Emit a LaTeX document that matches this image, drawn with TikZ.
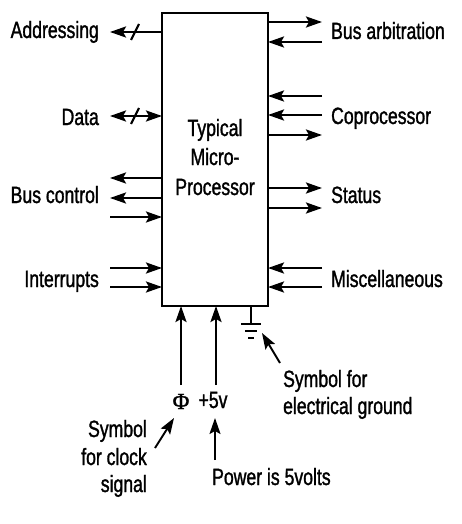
\documentclass[tikz,border=0pt]{standalone}
\usepackage{fontspec}
\setmainfont{Liberation Sans}[FakeStretch=0.75,FakeBold=1.3]
\newfontfamily\phifont{Liberation Serif}[FakeBold=1.2]
\usetikzlibrary{arrows.meta}
\begin{document}
\begin{tikzpicture}[x=1pt,y=-1pt,line width=2.3pt,
  arr/.style={-{Stealth[length=16pt,width=11pt,inset=3pt]}},
  darr/.style={{Stealth[length=16pt,width=11pt,inset=3pt]}-{Stealth[length=16pt,width=11pt,inset=3pt]}},
  lab/.style={inner sep=0pt,font=\fontsize{23.5}{29.5}\selectfont},
  cpubox/.style={draw,line width=2.5pt,minimum width=106pt,minimum height=293pt,inner sep=0pt},
  busslash/.style={line width=2.2pt}]
\useasboundingbox (0,0) rectangle (462,524);
% processor box
\node[cpubox] (cpu) at (215,159.5) {};
\node[lab,anchor=base] (t1) at (215,136) {Typical};
\node[lab,anchor=base] (t2) at (215,165) {Micro-};
\node[lab,anchor=base] (t3) at (215,195) {Processor};
% left side coordinates
\foreach \n/\y in {ad/32,da/116,bc1/178,bc2/198,bc3/217,in1/268,in2/287}{
  \coordinate (\n-b) at (162,\y);
  \coordinate (\n-o) at (110,\y);
}
% right side coordinates
\foreach \n/\y in {ba1/22,ba2/42,cp1/96,cp2/115,cp3/135,st1/188,st2/208,mi1/268,mi2/287}{
  \coordinate (\n-b) at (268,\y);
  \coordinate (\n-o) at (322,\y);
}
% left labels
\node[lab,anchor=base east] (lad) at (100,38) {Addressing};
\node[lab,anchor=base east] (lda) at (100,125) {Data};
\node[lab,anchor=base east] (lbc) at (100,203) {Bus control};
\node[lab,anchor=base east] (lin) at (100,287) {Interrupts};
% right labels
\node[lab,anchor=base west] (lba) at (330,39) {Bus arbitration};
\node[lab,anchor=base west] (lcp) at (330,124) {Coprocessor};
\node[lab,anchor=base west] (lst) at (330,203) {Status};
\node[lab,anchor=base west] (lmi) at (330,287) {Miscellaneous};
% left arrows
\draw[arr] (ad-b) -- (ad-o);
\draw[busslash] (131,40) -- (139,24);
\draw[darr] (da-o) -- (da-b);
\draw[busslash] (131,124) -- (139,108);
\draw[arr] (bc1-b) -- (bc1-o);
\draw[arr] (bc2-b) -- (bc2-o);
\draw[arr] (bc3-o) -- (bc3-b);
\draw[arr] (in1-o) -- (in1-b);
\draw[arr] (in2-o) -- (in2-b);
% right arrows
\draw[arr] (ba1-b) -- (ba1-o);
\draw[arr] (ba2-o) -- (ba2-b);
\draw[arr] (cp1-o) -- (cp1-b);
\draw[arr] (cp2-o) -- (cp2-b);
\draw[arr] (cp3-b) -- (cp3-o);
\draw[arr] (st1-b) -- (st1-o);
\draw[arr] (st2-b) -- (st2-o);
\draw[arr] (mi1-o) -- (mi1-b);
\draw[arr] (mi2-o) -- (mi2-b);
% bottom inputs
\coordinate (phib) at (181,306);
\coordinate (phio) at (181,385);
\coordinate (vb) at (216,306);
\coordinate (vo) at (216,385);
\draw[arr] (phio) -- (phib);
\draw[arr] (vo) -- (vb);
\node[inner sep=0pt,anchor=base,font=\phifont\fontsize{23}{23}\selectfont] (phi) at (181,409) {Φ};
\node[lab,anchor=base] (v5) at (213,408) {+5v};
% ground
\coordinate (gb) at (251,306);
\coordinate (gt) at (251,324);
\draw (gb) -- (gt);
\draw[line width=2.8pt] (241,324) -- (261,324);
\draw[line width=2.8pt] (245,331) -- (257,331);
\draw[line width=2.8pt] (248,338) -- (254,338);
% annotations
\node[lab,anchor=base west] (g1) at (282,387) {Symbol for};
\node[lab,anchor=base west] (g2) at (282,414) {electrical ground};
\coordinate (gs) at (280,363);
\coordinate (ge) at (262,333);
\draw[arr,line width=1.9pt] (gs) -- (ge);
\node[lab,anchor=base east] (c1) at (148,437) {Symbol};
\node[lab,anchor=base east] (c2) at (148,465) {for clock};
\node[lab,anchor=base east] (c3) at (148,492) {signal};
\coordinate (cs) at (155,448);
\coordinate (ce) at (174,418);
\draw[arr,line width=1.9pt] (cs) -- (ce);
\node[lab,anchor=base west] (pw) at (211,485) {Power is 5volts};
\coordinate (ps) at (215,460);
\coordinate (pe) at (215,418);
\draw[arr,line width=1.9pt] (ps) -- (pe);
\end{tikzpicture}
\end{document}
